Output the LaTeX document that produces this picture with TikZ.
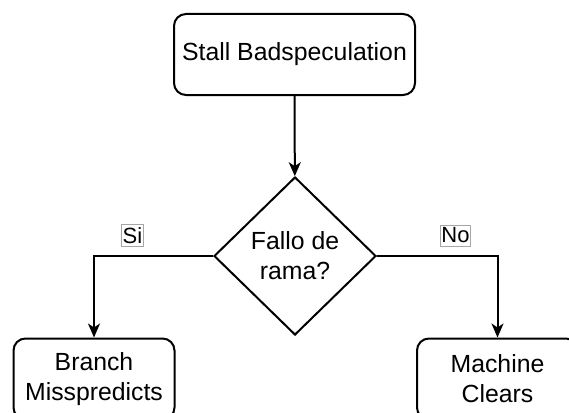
\documentclass[tikz,border=0pt]{standalone}
\usepackage{fontspec}
\setmainfont{Liberation Sans}
\usetikzlibrary{arrows.meta,shapes.geometric}
\begin{document}
\begin{tikzpicture}[x=1pt,y=-1pt,
  txt/.style={font=\fontsize{24.8}{30}\selectfont, align=center, text=black},
  box/.style={txt, draw, line width=2pt, rounded corners=12pt,
    minimum width=241pt, minimum height=81pt, inner sep=0pt},
  decision/.style={txt, draw, line width=2pt, diamond, aspect=1,
    minimum width=162pt, minimum height=158pt, inner sep=0pt},
  flow/.style={line width=2pt, -{Stealth[length=14pt,width=12pt,inset=4pt]}},
  lbl/.style={font=\fontsize{22}{24}\selectfont, fill=white, draw=black!35,
    line width=0.6pt, inner xsep=1pt, inner ysep=3pt, text=black}
]
\useasboundingbox (0,0) rectangle (569,412);
\clip (0,0) rectangle (569,412);

% top step and the decision below it
\node[box] (stall) at (294.5,54.5) {Stall Badspeculation};
\node[decision] (dec) at (295,256) {Fallo de\\rama?};

% the two outcomes, partly below the bottom edge
\node[box, minimum width=161pt] (branch) at (94,379) {Branch\\Misspredicts};
\node[box, minimum width=161pt] (machine) at (497.5,379) {Machine\\Clears};

\draw[flow] (stall) -- (dec);
\draw[flow] (dec.west) -| (branch.north);
\draw[flow] (dec.east) -| (machine.north);

\node[lbl] (si) at (132.5,235.5) {Si};
\node[lbl] (no) at (455.5,235.5) {No};
\end{tikzpicture}
\end{document}
